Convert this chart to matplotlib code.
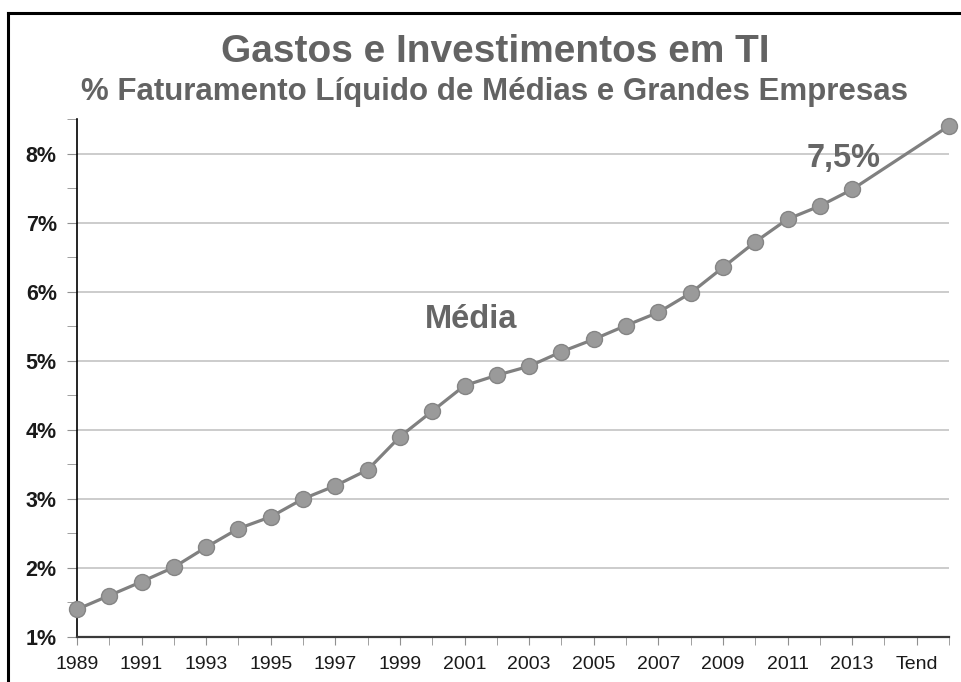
import matplotlib.pyplot as plt
from matplotlib.lines import Line2D
from matplotlib.ticker import MultipleLocator

# data
years = list(range(1989, 2014))
gastos = [1.40, 1.60, 1.80, 2.01, 2.30, 2.57, 2.74, 3.00, 3.19, 3.42,
          3.90, 4.27, 4.64, 4.79, 4.92, 5.13, 5.31, 5.51, 5.70, 5.98,
          6.35, 6.72, 7.05, 7.24, 7.48]
tend_label_year = 2015
tend_year = 2016
tend_value = 8.40

tick_years = years[::2]
tick_labels = [str(y) for y in tick_years] + ["Tend"]

plt.rcParams['font.family'] = ['Liberation Sans', 'DejaVu Sans']

fig = plt.figure(figsize=(9.61, 6.82), dpi=100)
ax = fig.add_axes([0.0801, 0.066, 0.9074, 0.7595])

line_x = years + [tend_year]
line_y = gastos + [tend_value]
ax.plot(line_x, line_y, color="#808080", lw=2.3, zorder=3, clip_on=False)
ax.plot(line_x, line_y, ls="none", marker="o",
        ms=11.5, mfc="#9a9a9a", mec="#858585", mew=1.0, zorder=4, clip_on=False)

ax.set_xlim(1989, 2016)
ax.set_ylim(1, 8.5)

ax.set_xticks(tick_years + [tend_label_year])
ax.set_xticklabels(tick_labels, fontsize=14, color="#1a1a1a")
ax.xaxis.set_minor_locator(MultipleLocator(1))
ax.tick_params(axis="x", which="both", length=6, color="#909090", pad=8)

ax.set_yticks(range(1, 9))
ax.set_yticklabels([f"{v}%" for v in range(1, 9)], fontsize=15.5,
                   fontweight="bold", color="#1a1a1a")
ax.yaxis.set_minor_locator(MultipleLocator(0.5))
ax.tick_params(axis="y", which="both", length=7, color="#909090", pad=7.5)

ax.grid(axis="y", which="major", color="#c4c4c4", lw=1.2)
ax.set_axisbelow(True)
for s in ["top", "right"]:
    ax.spines[s].set_visible(False)
ax.spines["left"].set_color("#000000")
ax.spines["left"].set_linewidth(1.2)
ax.spines["bottom"].set_color("#3a3a3a")
ax.spines["bottom"].set_linewidth(1.6)

ax.text(2001.2, 5.48, "Média", fontsize=23.5, fontweight="bold",
        color="#666666", ha="center", va="baseline")
ax.text(2012.75, 7.80, "7,5%", fontsize=23.5, fontweight="bold",
        color="#666666", ha="center", va="baseline")

fig.text(0.515, 1 - 62 / 682, "Gastos e Investimentos em TI", fontsize=28,
         fontweight="bold", color="#636363", ha="center", va="baseline")
fig.text(0.515, 1 - 100 / 682, "% Faturamento Líquido de Médias e Grandes Empresas",
         fontsize=22.5, fontweight="bold", color="#636363", ha="center", va="baseline")

# frame lines at left and top of the picture
fig.add_artist(Line2D([8 / 961, 8 / 961], [0, 1 - 13 / 682], color="black", lw=2.2))
fig.add_artist(Line2D([8 / 961, 1], [1 - 13 / 682, 1 - 13 / 682], color="black", lw=2.2))

fig.savefig("out.png", dpi=100)
